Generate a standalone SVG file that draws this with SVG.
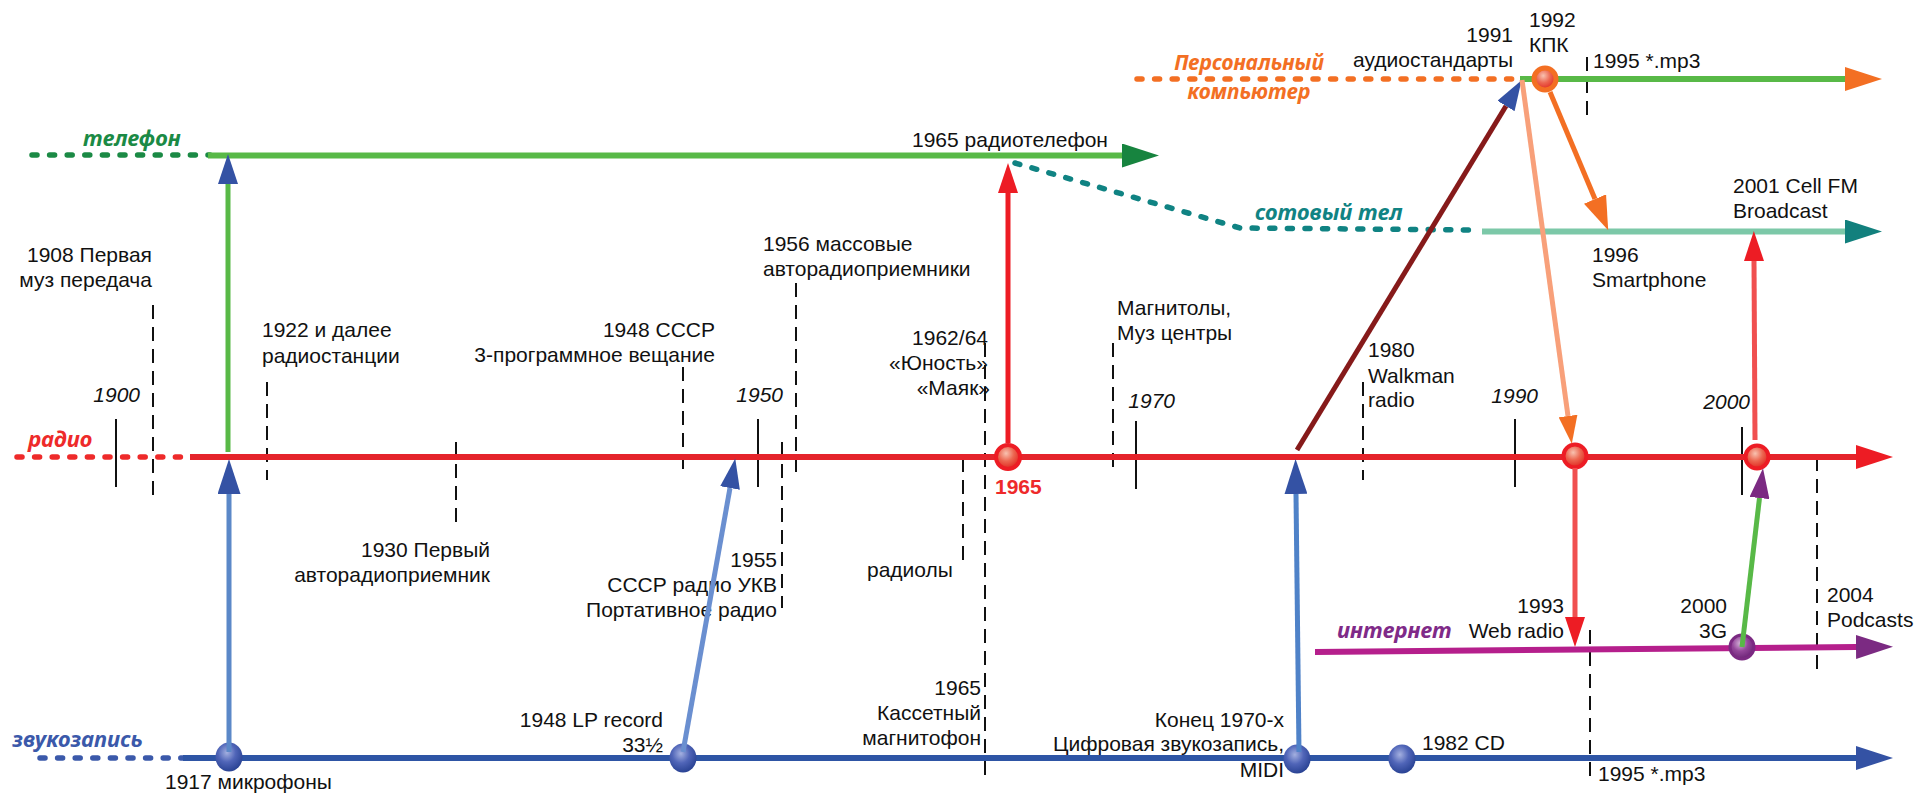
<svg xmlns="http://www.w3.org/2000/svg" width="1914" height="793" viewBox="0 0 1914 793">
<style>
text{font-family:"Liberation Sans",Arial,sans-serif;font-size:21px;fill:#111}
.e{text-anchor:end}
.it{font-style:italic}
.lbl{font-family:"Noto Sans","Liberation Sans",sans-serif;font-weight:bold;font-style:italic;font-size:22px}
.tick{stroke:#111;stroke-width:2;fill:none}
.dash{stroke:#111;stroke-width:2;stroke-dasharray:14 8;fill:none}
.dot{stroke-width:5.5;stroke-linecap:round;stroke-dasharray:5 12.6;fill:none}
.main{stroke-width:6;fill:none}
.con{stroke-width:5;fill:none}
</style>
<defs>
<marker id="hGreen" markerUnits="userSpaceOnUse" markerWidth="37" markerHeight="24" refX="0" refY="12" orient="auto"><path d="M0,0L37,12L0,24z" fill="#17843f"/></marker>
<marker id="hRed" markerUnits="userSpaceOnUse" markerWidth="37" markerHeight="24" refX="0" refY="12" orient="auto"><path d="M0,0L37,12L0,24z" fill="#ed1c24"/></marker>
<marker id="hBlue" markerUnits="userSpaceOnUse" markerWidth="37" markerHeight="24" refX="0" refY="12" orient="auto"><path d="M0,0L37,12L0,24z" fill="#3452a4"/></marker>
<marker id="hPurple" markerUnits="userSpaceOnUse" markerWidth="37" markerHeight="24" refX="0" refY="12" orient="auto"><path d="M0,0L37,12L0,24z" fill="#7b2a82"/></marker>
<marker id="hTeal" markerUnits="userSpaceOnUse" markerWidth="37" markerHeight="24" refX="0" refY="12" orient="auto"><path d="M0,0L37,12L0,24z" fill="#12807d"/></marker>
<marker id="hOrange" markerUnits="userSpaceOnUse" markerWidth="37" markerHeight="24" refX="0" refY="12" orient="auto"><path d="M0,0L37,12L0,24z" fill="#f36f23"/></marker>
<marker id="sBlue" markerUnits="userSpaceOnUse" markerWidth="35" markerHeight="23" refX="0" refY="11.5" orient="auto"><path d="M0,0L35,11.5L0,23z" fill="#3452a4"/></marker>
<marker id="sBlue2" markerUnits="userSpaceOnUse" markerWidth="30" markerHeight="20" refX="0" refY="10" orient="auto"><path d="M0,0L30,10L0,20z" fill="#3452a4"/></marker>
<marker id="sRed" markerUnits="userSpaceOnUse" markerWidth="30" markerHeight="20" refX="0" refY="10" orient="auto"><path d="M0,0L30,10L0,20z" fill="#ed1c24"/></marker>
<marker id="sOrange" markerUnits="userSpaceOnUse" markerWidth="28" markerHeight="19" refX="0" refY="9.5" orient="auto"><path d="M0,0L28,9.5L0,19z" fill="#f36f23"/></marker>
<marker id="bOrange" markerUnits="userSpaceOnUse" markerWidth="34" markerHeight="24" refX="0" refY="12" orient="auto"><path d="M0,0L34,12L0,24z" fill="#f36f23"/></marker>
<marker id="sPurple" markerUnits="userSpaceOnUse" markerWidth="30" markerHeight="20" refX="0" refY="10" orient="auto"><path d="M0,0L30,10L0,20z" fill="#7b2a82"/></marker>
<radialGradient id="gRed" cx="0.42" cy="0.35" r="0.65"><stop offset="0" stop-color="#f8c2b0"/><stop offset="0.5" stop-color="#ec6650"/><stop offset="1" stop-color="#e0261f"/></radialGradient>
<radialGradient id="gBlue" cx="0.42" cy="0.35" r="0.65"><stop offset="0" stop-color="#a4b0e0"/><stop offset="0.5" stop-color="#5065b8"/><stop offset="1" stop-color="#2a4394"/></radialGradient>
<radialGradient id="gPurple" cx="0.42" cy="0.35" r="0.65"><stop offset="0" stop-color="#d4b2d8"/><stop offset="0.5" stop-color="#94469a"/><stop offset="1" stop-color="#6d2577"/></radialGradient>
</defs>
<rect width="1914" height="793" fill="#fff"/>

<g id="ticks">
<line class="tick" x1="116" y1="419" x2="116" y2="487"/>
<line class="dash" x1="153" y1="305" x2="153" y2="495"/>
<line class="dash" x1="267" y1="382" x2="267" y2="480"/>
<line class="dash" x1="456" y1="442" x2="456" y2="525"/>
<line class="dash" x1="683" y1="367" x2="683" y2="472"/>
<line class="tick" x1="758" y1="419" x2="758" y2="487"/>
<line class="dash" x1="782" y1="442" x2="782" y2="608"/>
<line class="dash" x1="796" y1="283" x2="796" y2="472"/>
<line class="dash" x1="963" y1="458" x2="963" y2="563"/>
<line class="dash" x1="985" y1="343" x2="985" y2="782"/>
<line class="dash" x1="1113" y1="343" x2="1113" y2="472"/>
<line class="tick" x1="1136" y1="421" x2="1136" y2="489"/>
<line class="dash" x1="1363" y1="382" x2="1363" y2="480"/>
<line class="tick" x1="1515" y1="419" x2="1515" y2="487"/>
<line class="tick" x1="1742" y1="427" x2="1742" y2="495"/>
<line class="dash" x1="1817" y1="457" x2="1817" y2="677"/>
<line class="dash" x1="1587" y1="57" x2="1587" y2="117"/>
<line class="dash" x1="1590" y1="630" x2="1590" y2="783"/>
</g>

<g id="timelines">
<g id="line-telephone">
<line class="dot" x1="32" y1="155" x2="210" y2="155" stroke="#1b8a45"/>
<line class="main" x1="208" y1="155.5" x2="1122" y2="155.5" stroke="#58b947" marker-end="url(#hGreen)"/>
<text class="lbl" x="83" y="146" style="fill:#1b8a45">телефон</text>
</g>
<g id="line-radio">
<line class="dot" x1="17" y1="457" x2="190" y2="457" stroke="#ee2a2a"/>
<line class="main" x1="190" y1="457" x2="1856" y2="457" stroke="#e5242b" marker-end="url(#hRed)"/>
<text class="lbl" x="28" y="447" style="fill:#ee2a2a">радио</text>
</g>
<g id="line-recording">
<line class="dot" x1="40" y1="758" x2="183" y2="758" stroke="#3b59aa"/>
<line class="main" x1="183" y1="758" x2="1856" y2="758" stroke="#2e55a5" marker-end="url(#hBlue)"/>
<text class="lbl" x="12" y="747" style="fill:#3b59aa">звукозапись</text>
</g>
<g id="line-internet">
<line class="main" x1="1315" y1="652" x2="1856" y2="647" stroke="#b51f8c" marker-end="url(#hPurple)"/>
<text class="lbl" x="1337" y="638" style="fill:#7f2a88">интернет</text>
</g>
<g id="line-cell">
<polyline class="dot" points="1015,163 1240,228 1477,230" stroke="#108383"/>
<line class="main" x1="1482" y1="231.5" x2="1845" y2="231.5" stroke="#7cc8a8" marker-end="url(#hTeal)"/>
<text class="lbl" x="1255" y="220" style="fill:#108383">сотовый тел</text>
</g>
<g id="line-pc">
<line class="dot" x1="1137" y1="79" x2="1520" y2="79" stroke="#f36f23"/>
<line class="main" x1="1520" y1="79" x2="1845" y2="79" stroke="#58b947" marker-end="url(#hOrange)"/>
<text class="lbl" text-anchor="middle" style="fill:#f36f23;font-size:21px"><tspan x="1249" y="70">Персональный</tspan><tspan x="1249" y="99">компьютер</tspan></text>
</g>
</g>

<g id="nodes">
<g id="n1900"><text class="it e" x="140" y="402">1900</text></g>
<g id="n1908"><text class="e" x="152" y="262">1908 Первая</text><text class="e" x="152" y="287">муз передача</text></g>
<g id="n1917"><ellipse cx="229" cy="757" rx="13.5" ry="14.5" fill="url(#gBlue)"/><text x="165" y="789">1917 микрофоны</text></g>
<g id="n1922"><text x="262" y="337">1922 и далее</text><text x="262" y="363">радиостанции</text></g>
<g id="n1930"><text class="e" x="490" y="557">1930 Первый</text><text class="e" x="490" y="582">авторадиоприемник</text></g>
<g id="n1948a"><text class="e" x="715" y="337">1948 СССР</text><text class="e" x="715" y="362">3-программное вещание</text></g>
<g id="n1948b"><ellipse cx="683" cy="758" rx="13.5" ry="14.5" fill="url(#gBlue)"/><text class="e" x="663" y="727">1948 LP record</text><text class="e" x="663" y="752">33½</text></g>
<g id="n1950"><text class="it e" x="783" y="402">1950</text></g>
<g id="n1955"><text class="e" x="777" y="567">1955</text><text class="e" x="777" y="592">СССР радио УКВ</text><text class="e" x="777" y="617">Портативное радио</text></g>
<g id="n1956"><text x="763" y="251">1956 массовые</text><text x="763" y="276">авторадиоприемники</text></g>
<g id="n1962"><text class="e" x="988" y="345">1962/64</text><text class="e" x="988" y="370">«Юность»</text><text class="e" x="990" y="395">«Маяк»</text></g>
<g id="nRadiola"><text x="867" y="577">радиолы</text></g>
<g id="n1965"><circle cx="1008" cy="457" r="12" fill="url(#gRed)" stroke="#ed1c24" stroke-width="4"/><text x="995" y="494" style="fill:#ee2a2a;font-weight:bold">1965</text></g>
<g id="n1965tel"><text x="912" y="147">1965 радиотелефон</text></g>
<g id="n1965cas"><text class="e" x="981" y="695">1965</text><text class="e" x="981" y="720">Кассетный</text><text class="e" x="981" y="745">магнитофон</text></g>
<g id="nMagn"><text x="1117" y="315">Магнитолы,</text><text x="1117" y="340">Муз центры</text></g>
<g id="n1970"><text class="it e" x="1175" y="408">1970</text></g>
<g id="n1970x"><ellipse cx="1297" cy="759" rx="13.5" ry="14.5" fill="url(#gBlue)"/><text class="e" x="1284" y="727">Конец 1970-х</text><text class="e" x="1284" y="751">Цифровая звукозапись,</text><text class="e" x="1284" y="777">MIDI</text></g>
<g id="n1980"><text x="1368" y="357">1980</text><text x="1368" y="383">Walkman</text><text x="1368" y="407">radio</text></g>
<g id="n1982"><ellipse cx="1402" cy="759" rx="13.5" ry="14.5" fill="url(#gBlue)"/><text x="1422" y="750">1982 CD</text></g>
<g id="n1990"><text class="it e" x="1538" y="403">1990</text></g>
<g id="n1991"><text class="e" x="1513" y="42">1991</text><text class="e" x="1513" y="67">аудиостандарты</text></g>
<g id="n1992"><circle cx="1545" cy="79" r="11" fill="url(#gRed)" stroke="#f36f23" stroke-width="5"/><text x="1529" y="27">1992</text><text x="1529" y="52">КПК</text></g>
<g id="n1993"><circle cx="1575" cy="456" r="11.5" fill="url(#gRed)" stroke="#ed1c24" stroke-width="4"/><text class="e" x="1564" y="613">1993</text><text class="e" x="1564" y="638">Web radio</text></g>
<g id="n1995a"><text x="1593" y="68">1995 *.mp3</text></g>
<g id="n1995b"><text x="1598" y="781">1995 *.mp3</text></g>
<g id="n1996"><text x="1592" y="262">1996</text><text x="1592" y="287">Smartphone</text></g>
<g id="n2000"><text class="it e" x="1750" y="409">2000</text></g>
<g id="n2000r"><circle cx="1757" cy="457" r="11.5" fill="url(#gRed)" stroke="#ed1c24" stroke-width="4"/></g>
<g id="n2000g"><circle cx="1742" cy="647" r="12" fill="url(#gPurple)" stroke="#7b2a82" stroke-width="3"/><text class="e" x="1727" y="613">2000</text><text class="e" x="1727" y="638">3G</text></g>
<g id="n2001"><text x="1733" y="193">2001 Cell FM</text><text x="1733" y="218">Broadcast</text></g>
<g id="n2004"><text x="1827" y="602">2004</text><text x="1827" y="627">Podcasts</text></g>
</g>

<g id="connectors">
<line class="con" x1="229" y1="752" x2="229" y2="494" stroke="#5b88c8" marker-end="url(#sBlue)"/>
<line class="con" x1="228" y1="452" x2="228" y2="184" stroke="#58b947" marker-end="url(#sBlue2)"/>
<line class="con" x1="683" y1="752" x2="730" y2="488" stroke="#6a8fd0" marker-end="url(#sBlue2)"/>
<line class="con" x1="1008" y1="443" x2="1008" y2="193" stroke="#ed1c24" marker-end="url(#sRed)"/>
<line class="con" x1="1299" y1="752" x2="1296" y2="494" stroke="#4f82c8" marker-end="url(#sBlue)"/>
<line class="con" x1="1297" y1="450" x2="1506" y2="106" stroke="#861a1a" marker-end="url(#sBlue2)"/>
<line class="con" x1="1522" y1="80" x2="1568" y2="416" stroke="#f8a07a" marker-end="url(#sOrange)"/>
<line class="con" x1="1550" y1="92" x2="1595" y2="199" stroke="#f36f23" marker-end="url(#bOrange)"/>
<line class="con" x1="1575" y1="468" x2="1575" y2="617" stroke="#f05050" marker-end="url(#sRed)"/>
<line class="con" x1="1755" y1="440" x2="1754" y2="261" stroke="#f05050" marker-end="url(#sRed)"/>
<line class="con" x1="1742" y1="647" x2="1759.5" y2="498" stroke="#58b947" marker-end="url(#sPurple)"/>
</g>
</svg>
